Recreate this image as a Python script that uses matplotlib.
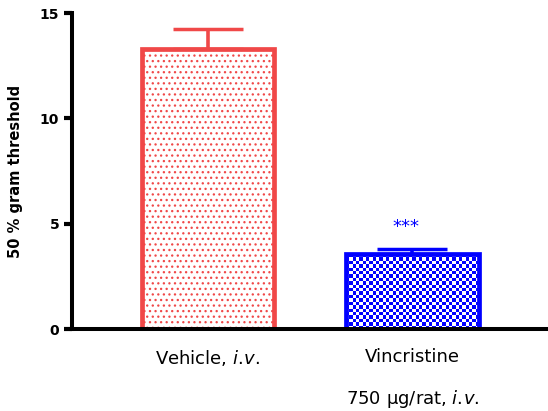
import matplotlib.pyplot as plt
import numpy as np

# data
groups = ['Vehicle, $\\it{i.\\!v.}$', 'Vincristine\n750 \u03bcg/rat, $\\it{i.\\!v.}$']
means = [13.28, 3.54]
sems = [0.99, 0.24]
yticks = [0, 5, 10, 15]
sig_label = '***'

plt.rcParams['font.family'] = ['DejaVu Sans']
plt.rcParams['mathtext.fontset'] = 'dejavusans'
plt.rcParams['hatch.linewidth'] = 0.9

red = '#f04848'
blue = '#0000ff'

fig = plt.figure(figsize=(5.48, 4.11), dpi=100)
ax = fig.add_axes([0.131, 0.1995, 0.869, 0.7685])
ax.set_xlim(-0.665, 1.663)
ax.set_ylim(0, 15)

x = np.arange(len(means))
colors = [red, blue]
bars = []
for i in range(len(means)):
    b = ax.bar(x[i], means[i], width=0.648, color='white', edgecolor=colors[i],
               linewidth=3.4, hatch='...' if i == 0 else None, zorder=2)[0]
    bars.append(b)
    ax.errorbar(x[i], means[i], yerr=[[0], [sems[i]]], color=colors[i],
                capsize=25, capthick=2.5, elinewidth=2.6, zorder=1)

# checkerboard fill for the vincristine bar, clipped to the bar
b = bars[1]
p0 = ax.transData.transform((b.get_x(), 0))
p1 = ax.transData.transform((b.get_x() + b.get_width(), b.get_height()))
nx = int(abs(p1[0] - p0[0]) / 3.3)
ny = int(abs(p1[1] - p0[1]) / 3.3)
checker = (np.add.outer(np.arange(ny), np.arange(nx)) % 2).astype(float)
cmap = plt.matplotlib.colors.ListedColormap(['white', blue])
im = ax.imshow(checker, cmap=cmap, interpolation='nearest', aspect='auto',
               extent=(b.get_x(), b.get_x() + b.get_width(), 0, b.get_height()),
               zorder=1.9)
im.set_clip_path(b)
b.set_facecolor('none')

ax.text(x[1] - 0.03, means[1] + sems[1] + 1.05, sig_label, color=blue,
        ha='center', va='center', fontsize=13)

ax.set_xlim(-0.665, 1.663)
ax.set_ylim(0, 15)
ax.set_yticks(yticks)
ax.set_yticklabels([str(t) for t in yticks], fontweight='bold', fontsize=10)
ax.set_xticks(x)
ax.set_xticklabels(groups, fontsize=13, linespacing=2.35)
ax.tick_params(axis='x', length=0, pad=14)
ax.tick_params(axis='y', length=6, width=3, direction='out', pad=3)
ax.set_ylabel('50 % gram threshold', fontweight='bold', fontsize=10.5, labelpad=12)

for s in ['top', 'right']:
    ax.spines[s].set_visible(False)
for s in ['left', 'bottom']:
    ax.spines[s].set_linewidth(2.9)
ax.spines['bottom'].set_zorder(3)

fig.savefig('out.png', dpi=100)
